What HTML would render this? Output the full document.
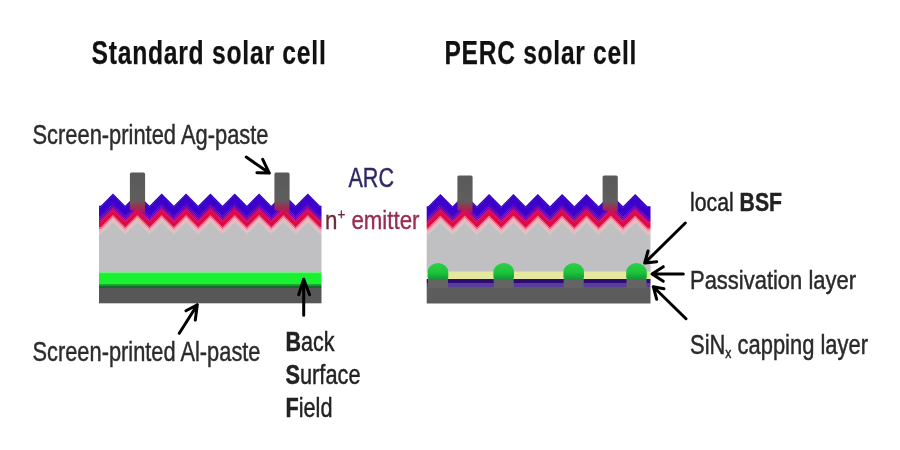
<!DOCTYPE html>
<html><head><meta charset="utf-8"><style>
html,body{margin:0;padding:0;background:#fff;}
svg{display:block;font-family:"Liberation Sans",sans-serif;}

</style></head><body>
<svg width="900" height="450" viewBox="0 0 900 450">
<defs>
<linearGradient id="pg" x1="0" y1="0" x2="0" y2="1">
<stop offset="0" stop-color="#5a5a5a"/><stop offset="0.68" stop-color="#5e5e5e"/><stop offset="0.85" stop-color="#9a3050"/><stop offset="1" stop-color="#d01048" stop-opacity="0.7"/>
</linearGradient>
<linearGradient id="dg" x1="0" y1="0" x2="0" y2="1"><stop offset="0" stop-color="#2ad048"/><stop offset="0.55" stop-color="#1ec43a"/><stop offset="1" stop-color="#14903a"/></linearGradient>
<filter id="gs"><feOffset dx="0" dy="0"/></filter>
</defs>
<rect width="900" height="450" fill="#fff"/>
<g>
<path d="M99.00,233.67 L100.83,233.67 L113.00,221.50 L125.17,233.67 L137.35,221.50 L149.53,233.67 L161.70,221.50 L173.88,233.67 L186.05,221.50 L198.23,233.67 L210.40,221.50 L222.57,233.67 L234.75,221.50 L246.93,233.67 L259.10,221.50 L271.27,233.67 L283.45,221.50 L295.62,233.67 L307.80,221.50 L319.98,233.67 L321.50,233.67 L321.50,272 L99.00,272Z" fill="#c0c0c2"/>
<path d="M99.00,205.67 L100.83,205.67 L113.00,193.50 L125.17,205.67 L137.35,193.50 L149.53,205.67 L161.70,193.50 L173.88,205.67 L186.05,193.50 L198.23,205.67 L210.40,193.50 L222.57,205.67 L234.75,193.50 L246.93,205.67 L259.10,193.50 L271.27,205.67 L283.45,193.50 L295.62,205.67 L307.80,193.50 L319.98,205.67 L321.50,205.67 L321.50,207.57 L319.98,207.57 L307.80,195.40 L295.62,207.57 L283.45,195.40 L271.27,207.57 L259.10,195.40 L246.93,207.57 L234.75,195.40 L222.57,207.57 L210.40,195.40 L198.23,207.57 L186.05,195.40 L173.88,207.57 L161.70,195.40 L149.53,207.57 L137.35,195.40 L125.17,207.57 L113.00,195.40 L100.83,207.57 L99.00,207.57Z" fill="#3000b8"/>
<path d="M99.00,207.17 L100.83,207.17 L113.00,195.00 L125.17,207.17 L137.35,195.00 L149.53,207.17 L161.70,195.00 L173.88,207.17 L186.05,195.00 L198.23,207.17 L210.40,195.00 L222.57,207.17 L234.75,195.00 L246.93,207.17 L259.10,195.00 L271.27,207.17 L283.45,195.00 L295.62,207.17 L307.80,195.00 L319.98,207.17 L321.50,207.17 L321.50,216.57 L319.98,216.57 L307.80,204.40 L295.62,216.57 L283.45,204.40 L271.27,216.57 L259.10,204.40 L246.93,216.57 L234.75,204.40 L222.57,216.57 L210.40,204.40 L198.23,216.57 L186.05,204.40 L173.88,216.57 L161.70,204.40 L149.53,216.57 L137.35,204.40 L125.17,216.57 L113.00,204.40 L100.83,216.57 L99.00,216.57Z" fill="#3c00cc"/>
<path d="M99.00,216.17 L100.83,216.17 L113.00,204.00 L125.17,216.17 L137.35,204.00 L149.53,216.17 L161.70,204.00 L173.88,216.17 L186.05,204.00 L198.23,216.17 L210.40,204.00 L222.57,216.17 L234.75,204.00 L246.93,216.17 L259.10,204.00 L271.27,216.17 L283.45,204.00 L295.62,216.17 L307.80,204.00 L319.98,216.17 L321.50,216.17 L321.50,218.57 L319.98,218.57 L307.80,206.40 L295.62,218.57 L283.45,206.40 L271.27,218.57 L259.10,206.40 L246.93,218.57 L234.75,206.40 L222.57,218.57 L210.40,206.40 L198.23,218.57 L186.05,206.40 L173.88,218.57 L161.70,206.40 L149.53,218.57 L137.35,206.40 L125.17,218.57 L113.00,206.40 L100.83,218.57 L99.00,218.57Z" fill="#5600bc"/>
<path d="M99.00,218.17 L100.83,218.17 L113.00,206.00 L125.17,218.17 L137.35,206.00 L149.53,218.17 L161.70,206.00 L173.88,218.17 L186.05,206.00 L198.23,218.17 L210.40,206.00 L222.57,218.17 L234.75,206.00 L246.93,218.17 L259.10,206.00 L271.27,218.17 L283.45,206.00 L295.62,218.17 L307.80,206.00 L319.98,218.17 L321.50,218.17 L321.50,220.57 L319.98,220.57 L307.80,208.40 L295.62,220.57 L283.45,208.40 L271.27,220.57 L259.10,208.40 L246.93,220.57 L234.75,208.40 L222.57,220.57 L210.40,208.40 L198.23,220.57 L186.05,208.40 L173.88,220.57 L161.70,208.40 L149.53,220.57 L137.35,208.40 L125.17,220.57 L113.00,208.40 L100.83,220.57 L99.00,220.57Z" fill="#8800a4"/>
<path d="M99.00,220.17 L100.83,220.17 L113.00,208.00 L125.17,220.17 L137.35,208.00 L149.53,220.17 L161.70,208.00 L173.88,220.17 L186.05,208.00 L198.23,220.17 L210.40,208.00 L222.57,220.17 L234.75,208.00 L246.93,220.17 L259.10,208.00 L271.27,220.17 L283.45,208.00 L295.62,220.17 L307.80,208.00 L319.98,220.17 L321.50,220.17 L321.50,222.07 L319.98,222.07 L307.80,209.90 L295.62,222.07 L283.45,209.90 L271.27,222.07 L259.10,209.90 L246.93,222.07 L234.75,209.90 L222.57,222.07 L210.40,209.90 L198.23,222.07 L186.05,209.90 L173.88,222.07 L161.70,209.90 L149.53,222.07 L137.35,209.90 L125.17,222.07 L113.00,209.90 L100.83,222.07 L99.00,222.07Z" fill="#bc007c"/>
<path d="M99.00,221.67 L100.83,221.67 L113.00,209.50 L125.17,221.67 L137.35,209.50 L149.53,221.67 L161.70,209.50 L173.88,221.67 L186.05,209.50 L198.23,221.67 L210.40,209.50 L222.57,221.67 L234.75,209.50 L246.93,221.67 L259.10,209.50 L271.27,221.67 L283.45,209.50 L295.62,221.67 L307.80,209.50 L319.98,221.67 L321.50,221.67 L321.50,227.57 L319.98,227.57 L307.80,215.40 L295.62,227.57 L283.45,215.40 L271.27,227.57 L259.10,215.40 L246.93,227.57 L234.75,215.40 L222.57,227.57 L210.40,215.40 L198.23,227.57 L186.05,215.40 L173.88,227.57 L161.70,215.40 L149.53,227.57 L137.35,215.40 L125.17,227.57 L113.00,215.40 L100.83,227.57 L99.00,227.57Z" fill="#dc0a48"/>
<path d="M99.00,227.17 L100.83,227.17 L113.00,215.00 L125.17,227.17 L137.35,215.00 L149.53,227.17 L161.70,215.00 L173.88,227.17 L186.05,215.00 L198.23,227.17 L210.40,215.00 L222.57,227.17 L234.75,215.00 L246.93,227.17 L259.10,215.00 L271.27,227.17 L283.45,215.00 L295.62,227.17 L307.80,215.00 L319.98,227.17 L321.50,227.17 L321.50,229.57 L319.98,229.57 L307.80,217.40 L295.62,229.57 L283.45,217.40 L271.27,229.57 L259.10,217.40 L246.93,229.57 L234.75,217.40 L222.57,229.57 L210.40,217.40 L198.23,229.57 L186.05,217.40 L173.88,229.57 L161.70,217.40 L149.53,229.57 L137.35,217.40 L125.17,229.57 L113.00,217.40 L100.83,229.57 L99.00,229.57Z" fill="#ec6482"/>
<path d="M99.00,229.17 L100.83,229.17 L113.00,217.00 L125.17,229.17 L137.35,217.00 L149.53,229.17 L161.70,217.00 L173.88,229.17 L186.05,217.00 L198.23,229.17 L210.40,217.00 L222.57,229.17 L234.75,217.00 L246.93,229.17 L259.10,217.00 L271.27,229.17 L283.45,217.00 L295.62,229.17 L307.80,217.00 L319.98,229.17 L321.50,229.17 L321.50,232.07 L319.98,232.07 L307.80,219.90 L295.62,232.07 L283.45,219.90 L271.27,232.07 L259.10,219.90 L246.93,232.07 L234.75,219.90 L222.57,232.07 L210.40,219.90 L198.23,232.07 L186.05,219.90 L173.88,232.07 L161.70,219.90 L149.53,232.07 L137.35,219.90 L125.17,232.07 L113.00,219.90 L100.83,232.07 L99.00,232.07Z" fill="#f0acb4"/>
<path d="M99.00,231.67 L100.83,231.67 L113.00,219.50 L125.17,231.67 L137.35,219.50 L149.53,231.67 L161.70,219.50 L173.88,231.67 L186.05,219.50 L198.23,231.67 L210.40,219.50 L222.57,231.67 L234.75,219.50 L246.93,231.67 L259.10,219.50 L271.27,231.67 L283.45,219.50 L295.62,231.67 L307.80,219.50 L319.98,231.67 L321.50,231.67 L321.50,234.57 L319.98,234.57 L307.80,222.40 L295.62,234.57 L283.45,222.40 L271.27,234.57 L259.10,222.40 L246.93,234.57 L234.75,222.40 L222.57,234.57 L210.40,222.40 L198.23,234.57 L186.05,222.40 L173.88,234.57 L161.70,222.40 L149.53,234.57 L137.35,222.40 L125.17,234.57 L113.00,222.40 L100.83,234.57 L99.00,234.57Z" fill="#d8c2c6"/>
<path d="M129.90,174.0 Q129.90,172.5 131.50,172.5 L143.50,172.5 Q145.10,172.5 145.10,174.0 L145.10,213 L129.90,210Z" fill="url(#pg)"/>
<path d="M274.40,174.0 Q274.40,172.5 276.00,172.5 L288.00,172.5 Q289.60,172.5 289.60,174.0 L289.60,213 L274.40,210Z" fill="url(#pg)"/>

<rect x="99" y="272" width="222.5" height="11.5" fill="#18f030"/>
<rect x="99" y="272" width="222.5" height="1.2" fill="#70f080"/>
<rect x="99" y="283.5" width="222.5" height="1.7" fill="#18a830"/>
<rect x="99" y="285.2" width="222.5" height="2.8" fill="#136c2c"/>
<rect x="99" y="288" width="222.5" height="15.3" fill="#575757"/>

<path d="M426.70,234.17 L428.22,234.17 L440.40,222.00 L452.57,234.17 L464.75,222.00 L476.92,234.17 L489.10,222.00 L501.27,234.17 L513.45,222.00 L525.62,234.17 L537.80,222.00 L549.98,234.17 L562.15,222.00 L574.33,234.17 L586.50,222.00 L598.67,234.17 L610.85,222.00 L623.02,234.17 L635.20,222.00 L647.38,234.17 L650.50,234.17 L650.50,272 L426.70,272Z" fill="#c0c0c2"/>
<path d="M426.70,206.17 L428.22,206.17 L440.40,194.00 L452.57,206.17 L464.75,194.00 L476.92,206.17 L489.10,194.00 L501.27,206.17 L513.45,194.00 L525.62,206.17 L537.80,194.00 L549.98,206.17 L562.15,194.00 L574.33,206.17 L586.50,194.00 L598.67,206.17 L610.85,194.00 L623.02,206.17 L635.20,194.00 L647.38,206.17 L650.50,206.17 L650.50,208.07 L647.38,208.07 L635.20,195.90 L623.02,208.07 L610.85,195.90 L598.67,208.07 L586.50,195.90 L574.33,208.07 L562.15,195.90 L549.98,208.07 L537.80,195.90 L525.62,208.07 L513.45,195.90 L501.27,208.07 L489.10,195.90 L476.92,208.07 L464.75,195.90 L452.57,208.07 L440.40,195.90 L428.22,208.07 L426.70,208.07Z" fill="#3000b8"/>
<path d="M426.70,207.67 L428.22,207.67 L440.40,195.50 L452.57,207.67 L464.75,195.50 L476.92,207.67 L489.10,195.50 L501.27,207.67 L513.45,195.50 L525.62,207.67 L537.80,195.50 L549.98,207.67 L562.15,195.50 L574.33,207.67 L586.50,195.50 L598.67,207.67 L610.85,195.50 L623.02,207.67 L635.20,195.50 L647.38,207.67 L650.50,207.67 L650.50,217.07 L647.38,217.07 L635.20,204.90 L623.02,217.07 L610.85,204.90 L598.67,217.07 L586.50,204.90 L574.33,217.07 L562.15,204.90 L549.98,217.07 L537.80,204.90 L525.62,217.07 L513.45,204.90 L501.27,217.07 L489.10,204.90 L476.92,217.07 L464.75,204.90 L452.57,217.07 L440.40,204.90 L428.22,217.07 L426.70,217.07Z" fill="#3c00cc"/>
<path d="M426.70,216.67 L428.22,216.67 L440.40,204.50 L452.57,216.67 L464.75,204.50 L476.92,216.67 L489.10,204.50 L501.27,216.67 L513.45,204.50 L525.62,216.67 L537.80,204.50 L549.98,216.67 L562.15,204.50 L574.33,216.67 L586.50,204.50 L598.67,216.67 L610.85,204.50 L623.02,216.67 L635.20,204.50 L647.38,216.67 L650.50,216.67 L650.50,219.07 L647.38,219.07 L635.20,206.90 L623.02,219.07 L610.85,206.90 L598.67,219.07 L586.50,206.90 L574.33,219.07 L562.15,206.90 L549.98,219.07 L537.80,206.90 L525.62,219.07 L513.45,206.90 L501.27,219.07 L489.10,206.90 L476.92,219.07 L464.75,206.90 L452.57,219.07 L440.40,206.90 L428.22,219.07 L426.70,219.07Z" fill="#5600bc"/>
<path d="M426.70,218.67 L428.22,218.67 L440.40,206.50 L452.57,218.67 L464.75,206.50 L476.92,218.67 L489.10,206.50 L501.27,218.67 L513.45,206.50 L525.62,218.67 L537.80,206.50 L549.98,218.67 L562.15,206.50 L574.33,218.67 L586.50,206.50 L598.67,218.67 L610.85,206.50 L623.02,218.67 L635.20,206.50 L647.38,218.67 L650.50,218.67 L650.50,221.07 L647.38,221.07 L635.20,208.90 L623.02,221.07 L610.85,208.90 L598.67,221.07 L586.50,208.90 L574.33,221.07 L562.15,208.90 L549.98,221.07 L537.80,208.90 L525.62,221.07 L513.45,208.90 L501.27,221.07 L489.10,208.90 L476.92,221.07 L464.75,208.90 L452.57,221.07 L440.40,208.90 L428.22,221.07 L426.70,221.07Z" fill="#8800a4"/>
<path d="M426.70,220.67 L428.22,220.67 L440.40,208.50 L452.57,220.67 L464.75,208.50 L476.92,220.67 L489.10,208.50 L501.27,220.67 L513.45,208.50 L525.62,220.67 L537.80,208.50 L549.98,220.67 L562.15,208.50 L574.33,220.67 L586.50,208.50 L598.67,220.67 L610.85,208.50 L623.02,220.67 L635.20,208.50 L647.38,220.67 L650.50,220.67 L650.50,222.57 L647.38,222.57 L635.20,210.40 L623.02,222.57 L610.85,210.40 L598.67,222.57 L586.50,210.40 L574.33,222.57 L562.15,210.40 L549.98,222.57 L537.80,210.40 L525.62,222.57 L513.45,210.40 L501.27,222.57 L489.10,210.40 L476.92,222.57 L464.75,210.40 L452.57,222.57 L440.40,210.40 L428.22,222.57 L426.70,222.57Z" fill="#bc007c"/>
<path d="M426.70,222.17 L428.22,222.17 L440.40,210.00 L452.57,222.17 L464.75,210.00 L476.92,222.17 L489.10,210.00 L501.27,222.17 L513.45,210.00 L525.62,222.17 L537.80,210.00 L549.98,222.17 L562.15,210.00 L574.33,222.17 L586.50,210.00 L598.67,222.17 L610.85,210.00 L623.02,222.17 L635.20,210.00 L647.38,222.17 L650.50,222.17 L650.50,228.07 L647.38,228.07 L635.20,215.90 L623.02,228.07 L610.85,215.90 L598.67,228.07 L586.50,215.90 L574.33,228.07 L562.15,215.90 L549.98,228.07 L537.80,215.90 L525.62,228.07 L513.45,215.90 L501.27,228.07 L489.10,215.90 L476.92,228.07 L464.75,215.90 L452.57,228.07 L440.40,215.90 L428.22,228.07 L426.70,228.07Z" fill="#dc0a48"/>
<path d="M426.70,227.67 L428.22,227.67 L440.40,215.50 L452.57,227.67 L464.75,215.50 L476.92,227.67 L489.10,215.50 L501.27,227.67 L513.45,215.50 L525.62,227.67 L537.80,215.50 L549.98,227.67 L562.15,215.50 L574.33,227.67 L586.50,215.50 L598.67,227.67 L610.85,215.50 L623.02,227.67 L635.20,215.50 L647.38,227.67 L650.50,227.67 L650.50,230.07 L647.38,230.07 L635.20,217.90 L623.02,230.07 L610.85,217.90 L598.67,230.07 L586.50,217.90 L574.33,230.07 L562.15,217.90 L549.98,230.07 L537.80,217.90 L525.62,230.07 L513.45,217.90 L501.27,230.07 L489.10,217.90 L476.92,230.07 L464.75,217.90 L452.57,230.07 L440.40,217.90 L428.22,230.07 L426.70,230.07Z" fill="#ec6482"/>
<path d="M426.70,229.67 L428.22,229.67 L440.40,217.50 L452.57,229.67 L464.75,217.50 L476.92,229.67 L489.10,217.50 L501.27,229.67 L513.45,217.50 L525.62,229.67 L537.80,217.50 L549.98,229.67 L562.15,217.50 L574.33,229.67 L586.50,217.50 L598.67,229.67 L610.85,217.50 L623.02,229.67 L635.20,217.50 L647.38,229.67 L650.50,229.67 L650.50,232.57 L647.38,232.57 L635.20,220.40 L623.02,232.57 L610.85,220.40 L598.67,232.57 L586.50,220.40 L574.33,232.57 L562.15,220.40 L549.98,232.57 L537.80,220.40 L525.62,232.57 L513.45,220.40 L501.27,232.57 L489.10,220.40 L476.92,232.57 L464.75,220.40 L452.57,232.57 L440.40,220.40 L428.22,232.57 L426.70,232.57Z" fill="#f0acb4"/>
<path d="M426.70,232.17 L428.22,232.17 L440.40,220.00 L452.57,232.17 L464.75,220.00 L476.92,232.17 L489.10,220.00 L501.27,232.17 L513.45,220.00 L525.62,232.17 L537.80,220.00 L549.98,232.17 L562.15,220.00 L574.33,232.17 L586.50,220.00 L598.67,232.17 L610.85,220.00 L623.02,232.17 L635.20,220.00 L647.38,232.17 L650.50,232.17 L650.50,235.07 L647.38,235.07 L635.20,222.90 L623.02,235.07 L610.85,222.90 L598.67,235.07 L586.50,222.90 L574.33,235.07 L562.15,222.90 L549.98,235.07 L537.80,222.90 L525.62,235.07 L513.45,222.90 L501.27,235.07 L489.10,222.90 L476.92,235.07 L464.75,222.90 L452.57,235.07 L440.40,222.90 L428.22,235.07 L426.70,235.07Z" fill="#d8c2c6"/>
<path d="M457.40,177.0 Q457.40,175.5 459.00,175.5 L471.00,175.5 Q472.60,175.5 472.60,177.0 L472.60,213 L457.40,210Z" fill="url(#pg)"/>
<path d="M602.60,177.0 Q602.60,175.5 604.20,175.5 L616.20,175.5 Q617.80,175.5 617.80,177.0 L617.80,213 L602.60,210Z" fill="url(#pg)"/>
<rect x="426.7" y="271.5" width="223.8" height="7.5" fill="#e6e8a0"/>
<rect x="426.7" y="279" width="223.8" height="4" fill="#2c0c72"/>
<rect x="426.7" y="283" width="223.8" height="4" fill="#5a3c9c"/>
<rect x="426.7" y="287" width="223.8" height="16.5" fill="#5c5c5c"/>
<rect x="428" y="279" width="20" height="9" fill="#646464"/>
<path d="M427.7,272 A10.3,9 0 0 1 448.3,272 L448.3,276.5 Q448.3,280 445.0,280 L431.0,280 Q427.7,280 427.7,276.5 Z" fill="url(#dg)"/>
<rect x="493.7" y="279" width="20" height="9" fill="#646464"/>
<path d="M493.4,272 A10.3,9 0 0 1 514.0,272 L514.0,276.5 Q514.0,280 510.7,280 L496.7,280 Q493.4,280 493.4,276.5 Z" fill="url(#dg)"/>
<rect x="563.7" y="279" width="20" height="9" fill="#646464"/>
<path d="M563.4,272 A10.3,9 0 0 1 584.0,272 L584.0,276.5 Q584.0,280 580.7,280 L566.7,280 Q563.4,280 563.4,276.5 Z" fill="url(#dg)"/>
<rect x="626.5" y="279" width="20" height="9" fill="#646464"/>
<path d="M626.2,272 A10.3,9 0 0 1 646.8,272 L646.8,276.5 Q646.8,280 643.5,280 L629.5,280 Q626.2,280 626.2,276.5 Z" fill="url(#dg)"/>
</g>
<g filter="url(#gs)">
<path d="M246.2,157.1 L269.3,173.1 M262.7,159.3 L269.3,173.1 L256.9,172.7" fill="none" stroke="#000" stroke-width="3" stroke-linecap="round" stroke-linejoin="round"/>
<path d="M179.3,333.3 L197.3,304.7 M186,310.7 L197.3,304.7 L195.3,320" fill="none" stroke="#000" stroke-width="3" stroke-linecap="round" stroke-linejoin="round"/>
<path d="M303.7,315.3 L303.7,279.3 M298.7,294.7 L303.7,279.3 L309.6,294.7" fill="none" stroke="#000" stroke-width="3" stroke-linecap="round" stroke-linejoin="round"/>
<path d="M685.3,223 L644.7,263 M648,251 L644.7,263 L656.7,261.7" fill="none" stroke="#000" stroke-width="3" stroke-linecap="round" stroke-linejoin="round"/>
<path d="M683.3,274 L652,274 M663.3,266.7 L652,274 L663.3,281.3" fill="none" stroke="#000" stroke-width="3" stroke-linecap="round" stroke-linejoin="round"/>
<path d="M686,318.7 L653.3,286.7 M664,288.7 L653.3,286.7 L656.7,299.3" fill="none" stroke="#000" stroke-width="3" stroke-linecap="round" stroke-linejoin="round"/>
</g>
<g filter="url(#gs)">
<text x="91.5" y="63.8" font-size="33.5" font-weight="bold" fill="#111" stroke="#111" stroke-width="0.25" letter-spacing="1.0" textLength="235" lengthAdjust="spacingAndGlyphs">Standard solar cell</text>
<text x="444.5" y="63.8" font-size="33.5" font-weight="bold" fill="#111" stroke="#111" stroke-width="0.25" letter-spacing="1.0" textLength="192.5" lengthAdjust="spacingAndGlyphs">PERC solar cell</text>
<text x="32.5" y="143.5" font-size="27.5" font-weight="normal" fill="#2c2c2c" stroke="#2c2c2c" stroke-width="0.45" letter-spacing="0" textLength="236" lengthAdjust="spacingAndGlyphs">Screen-printed Ag-paste</text>
<text x="32.5" y="360.5" font-size="27.5" font-weight="normal" fill="#2c2c2c" stroke="#2c2c2c" stroke-width="0.45" letter-spacing="0" textLength="228" lengthAdjust="spacingAndGlyphs">Screen-printed Al-paste</text>
<text x="285.5" y="351" font-size="27" font-weight="normal" fill="#222" stroke="#222" stroke-width="0.45" letter-spacing="0" textLength="49" lengthAdjust="spacingAndGlyphs"><tspan font-weight="bold">B</tspan>ack</text>
<text x="285.5" y="383.5" font-size="27" font-weight="normal" fill="#222" stroke="#222" stroke-width="0.45" letter-spacing="0" textLength="75" lengthAdjust="spacingAndGlyphs"><tspan font-weight="bold">S</tspan>urface</text>
<text x="285.5" y="416.5" font-size="27" font-weight="normal" fill="#222" stroke="#222" stroke-width="0.45" letter-spacing="0" textLength="47" lengthAdjust="spacingAndGlyphs"><tspan font-weight="bold">F</tspan>ield</text>
<text x="690" y="210.5" font-size="26" font-weight="normal" fill="#222" stroke="#222" stroke-width="0.45" letter-spacing="0" textLength="92" lengthAdjust="spacingAndGlyphs">local <tspan font-weight="bold">BSF</tspan></text>
<text x="690" y="288.5" font-size="26" font-weight="normal" fill="#2a2a2a" stroke="#2a2a2a" stroke-width="0.45" letter-spacing="0" textLength="166" lengthAdjust="spacingAndGlyphs">Passivation layer</text>
<text x="690" y="353.5" font-size="27" font-weight="normal" fill="#2a2a2a" stroke="#2a2a2a" stroke-width="0.45" letter-spacing="0" textLength="178" lengthAdjust="spacingAndGlyphs">SiN<tspan font-size="15" dy="4">x</tspan><tspan dy="-4"> capping layer</tspan></text>
<text x="348.5" y="187" font-size="27" font-weight="normal" fill="#2e2866" stroke="#2e2866" stroke-width="0.45" letter-spacing="0" textLength="45.5" lengthAdjust="spacingAndGlyphs">ARC</text>
<text x="325" y="229" font-size="25" font-weight="normal" fill="#9a2c50" stroke="#9a2c50" stroke-width="0.35" letter-spacing="0" textLength="94.5" lengthAdjust="spacingAndGlyphs"><tspan fill="#6a2a40" stroke="#6a2a40">n</tspan><tspan font-size="15" dy="-10" fill="#6a2a40" stroke="#6a2a40">+</tspan><tspan dy="10"> emitter</tspan></text>
</g>
</svg>
</body></html>
